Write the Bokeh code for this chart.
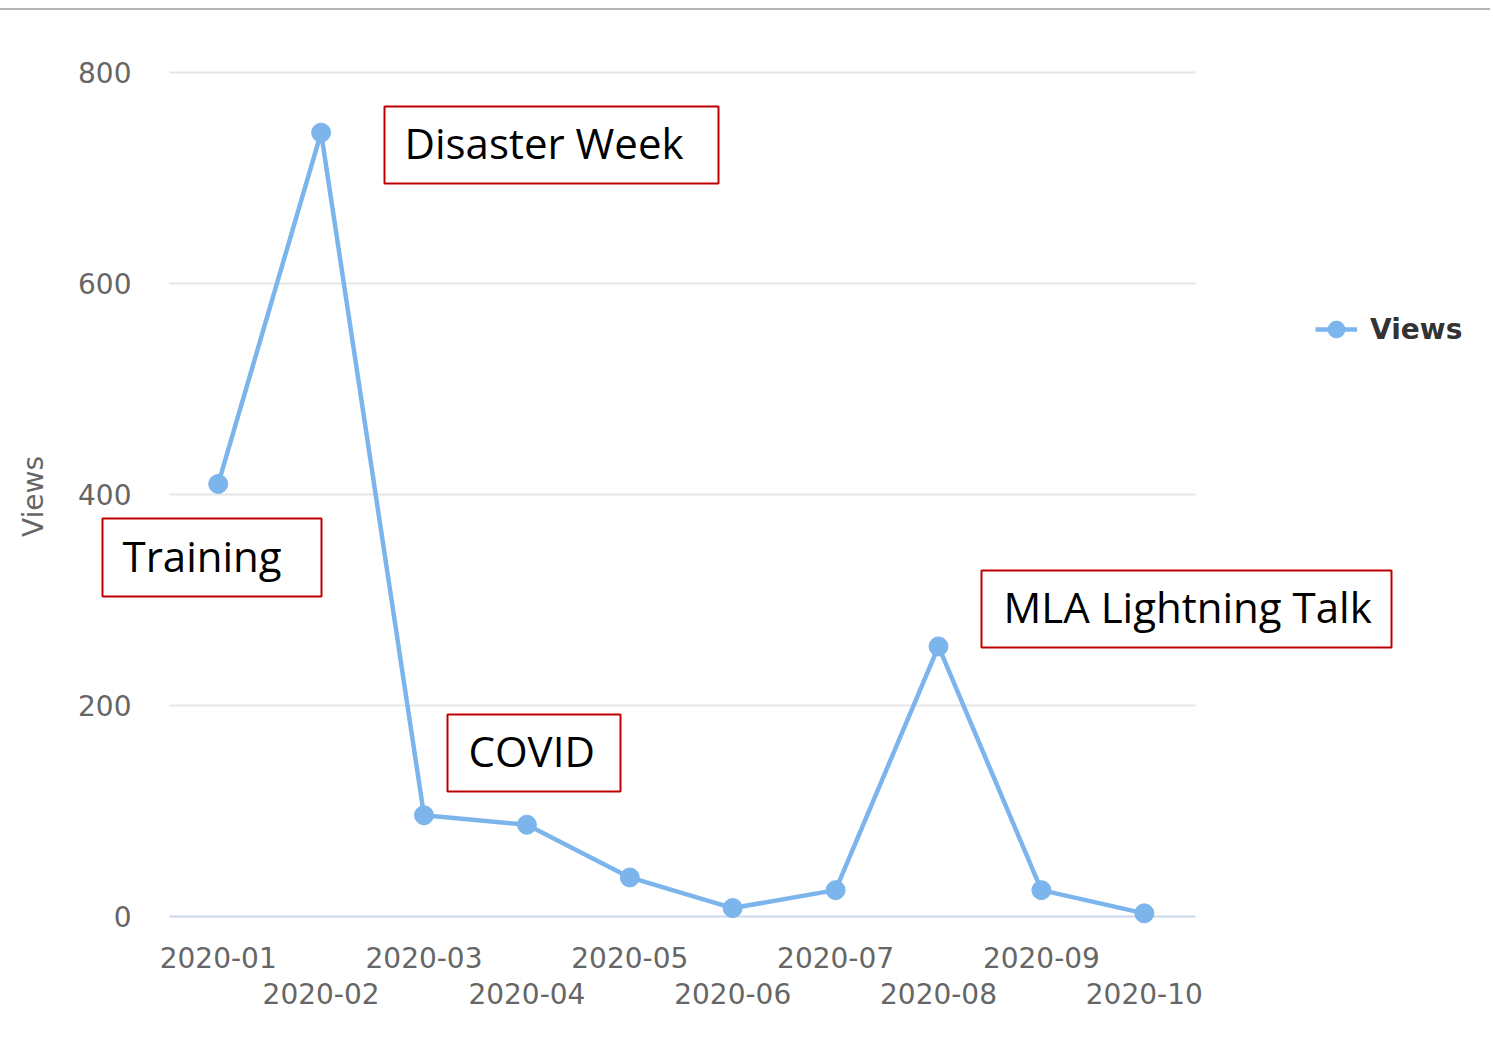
from bokeh.plotting import figure
from bokeh.models import (Range1d, FixedTicker, LinearAxis, Label, BoxAnnotation,
                          Legend, LegendItem, ColumnDataSource)
from bokeh.embed import file_html
from bokeh.resources import INLINE

# ---- data ----
months = ["2020-01", "2020-02", "2020-03", "2020-04", "2020-05",
          "2020-06", "2020-07", "2020-08", "2020-09", "2020-10"]
views = [410, 743, 96, 87, 37, 8, 25, 256, 25, 3]
y_ticks = [0, 200, 400, 600, 800]
notes = ["Training", "Disaster Week", "COVID", "MLA Lightning Talk"]

# ---- layout (page pixels) ----
OX, OY = 0, 10            # canvas origin on the page (8px margin + 2px top rule)
W, H = 1490, 1020
FL, FR, FT, FB = 95, 1480, 62, 930   # drawing frame on the page
XPX0, XSTEP = 217.7, 102.9           # page x of first category, px per category
YPX0, YPPU = 916.0, 844.0 / 800.0    # page y of value 0, px per unit
GRID_L, GRID_R = 169, 1195           # horizontal extent of the chart area


def px2x(px):
    return (px - XPX0) / XSTEP


def py2y(py):
    return (YPX0 - py) / YPPU


GRAY = "#666666"
FONT = "DejaVu Sans"

p = figure(width=W, height=H,
           x_range=Range1d(px2x(FL), px2x(FR)), y_range=Range1d(py2y(FB), py2y(FT)),
           output_backend="svg", toolbar_location=None,
           min_border_left=FL - OX, min_border_right=OX + W - FR,
           min_border_top=FT - OY, min_border_bottom=OY + H - FB,
           outline_line_color=None)
p.styles = {"border-top": "2px solid #b4b4b4", "margin-top": "8px"}

xs = list(range(len(months)))
src = ColumnDataSource(dict(x=xs, y=views))

# ---- y axis ----
p.yaxis.ticker = FixedTicker(ticks=y_ticks)
p.yaxis.axis_line_color = None
p.yaxis.major_tick_line_color = None
p.yaxis.minor_tick_line_color = None
p.yaxis.major_label_text_font = FONT
p.yaxis.major_label_text_font_size = "28px"
p.yaxis.major_label_text_color = GRAY
p.yaxis.major_label_standoff = FL - 137
p.yaxis.axis_label = "Views"
p.yaxis.axis_label_text_font = FONT
p.yaxis.axis_label_text_font_style = "normal"
p.yaxis.axis_label_text_font_size = "28px"
p.yaxis.axis_label_text_color = GRAY
p.yaxis.axis_label_standoff = 25
p.grid.visible = False

# grid lines and axis line, limited to the chart area
gl, gr = px2x(GRID_L), px2x(GRID_R)
p.segment(x0=[gl] * (len(y_ticks) - 1), x1=[gr] * (len(y_ticks) - 1),
          y0=y_ticks[1:], y1=y_ticks[1:], line_color="#e6e6e6", line_width=2)
p.segment(x0=[gl], x1=[gr], y0=y_ticks[:1], y1=y_ticks[:1],
          line_color="#ccd6eb", line_width=2)

# ---- x axis (two staggered rows) ----
xa = p.xaxis[0]
xa.ticker = FixedTicker(ticks=xs[0::2])
xa.major_label_overrides = {i: months[i] for i in xs[0::2]}
xa.axis_line_color = None
xa.major_tick_line_color = None
xa.minor_tick_line_color = None
xa.major_label_text_font = FONT
xa.major_label_text_font_size = "28px"
xa.major_label_text_color = GRAY
xa.major_label_standoff = 10

xb = LinearAxis(ticker=FixedTicker(ticks=xs[1::2]),
                major_label_overrides={i: months[i] for i in xs[1::2]})
xb.axis_line_color = None
xb.major_tick_line_color = None
xb.minor_tick_line_color = None
xb.major_label_text_font = FONT
xb.major_label_text_font_size = "28px"
xb.major_label_text_color = GRAY
xb.major_label_standoff = 6
p.add_layout(xb, "below")

# ---- series ----
ln = p.line("x", "y", source=src, line_color="#7cb5ec", line_width=4.5)
sc = p.scatter("x", "y", source=src, size=19, fill_color="#7cb5ec",
               line_color="#7cb5ec")

legend = Legend(items=[LegendItem(label="Views", renderers=[ln, sc])],
                location=(1315 - FL, FB - 354),
                glyph_width=42, glyph_height=50, label_height=50,
                label_standoff=13, padding=0, margin=0, spacing=0,
                border_line_color=None, background_fill_alpha=0,
                label_text_font=FONT, label_text_font_style="bold",
                label_text_font_size="28px", label_text_color="#333333")
p.add_layout(legend, "center")

# ---- annotation boxes: (left, right, top, bottom, text x, text baseline) ----
boxes = [
    (102, 321, 518, 596, 122, 573),
    (384, 718, 106, 183, 404, 160),
    (447, 620, 714, 791, 468, 768),
    (981, 1391, 570, 647, 1003, 624),
]
BASE_FIX = 18
for txt, (l, r, t, b, tx, by) in zip(notes, boxes):
    p.add_layout(BoxAnnotation(left=px2x(l), right=px2x(r), top=py2y(t),
                               bottom=py2y(b), fill_alpha=0,
                               line_color="#c00000", line_alpha=1.0,
                               line_width=2))
    p.add_layout(Label(x=px2x(tx), y=py2y(by - BASE_FIX), text=txt,
                       text_font="Open Sans", text_font_size="42px",
                       text_color="black", text_align="left",
                       text_baseline="alphabetic"))

open("out.html", "w").write(file_html(p, INLINE))
